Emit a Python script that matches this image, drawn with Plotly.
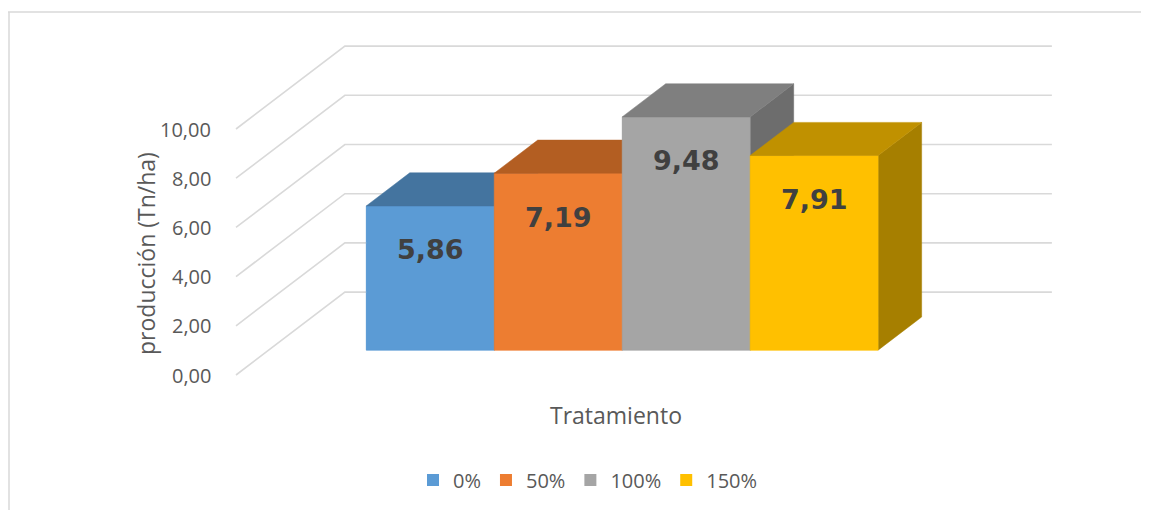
import plotly.graph_objects as go

# Datos del grafico
tratamientos = ['0%', '50%', '100%', '150%']
produccion = [5.86, 7.19, 9.48, 7.91]
etiquetas = ['5,86', '7,19', '9,48', '7,91']
ticks = [0, 2, 4, 6, 8, 10]
tick_labels = ['0,00', '2,00', '4,00', '6,00', '8,00', '10,00']

### Colores (frente / tapa / lateral) ###
front_colors = ['#5B9BD5', '#ED7D31', '#A5A5A5', '#FFC000']
top_colors = ['#44749F', '#B35E22', '#7F7F7F', '#C09100']
side_colors = ['#3C6690', '#9E531E', '#6D6D6D', '#A67F00']
grid_color = '#D9D9D9'
text_color = '#595959'

W, H = 1149, 510
OFF = 8   # margen del body de la pagina

### Proyeccion oblicua (profundidad) ###
DX = 0.154     # desplazamiento x de toda la profundidad (unidades de categoria)
DY = 3.37      # desplazamiento y de toda la profundidad (unidades de valor)
T_FRONT, T_BACK = 0.30, 0.70
BAR_W = 0.181
GAP = (1 - BAR_W * len(produccion)) / 2


def proj(x, v, t):
    return x + t * DX, v + t * DY


def px(x):
    return (x - OFF) / W


def py(y):
    return 1 - (y - OFF) / H


fig = go.Figure()

### Paredes: lineas de la grilla ###
gx, gy = [], []
for v in ticks:
    x0, y0 = proj(0, v, 0)
    x1, y1 = proj(0, v, 1)
    x2, y2 = proj(1, v, 1)
    gx += [x0, x1, x2, None]
    gy += [y0, y1, y2, None]
fig.add_trace(go.Scatter(x=gx, y=gy, mode='lines', showlegend=False, hoverinfo='skip',
                         line=dict(color=grid_color, width=1.6)))

### Barras (cara frontal) ###
for i, (name, val) in enumerate(zip(tratamientos, produccion)):
    left = GAP + i * BAR_W
    fig.add_trace(go.Bar(
        x=[left + BAR_W / 2 + T_FRONT * DX], y=[val], base=[T_FRONT * DY],
        width=[BAR_W], name=name, marker_color=front_colors[i],
        marker_line_width=0, hoverinfo='skip'))


def face(pts, color):
    xs = [p[0] for p in pts] + [pts[0][0]]
    ys = [p[1] for p in pts] + [pts[0][1]]
    return go.Scatter(x=xs, y=ys, mode='lines', fill='toself', fillcolor=color,
                      line=dict(color=color, width=0.5), showlegend=False, hoverinfo='skip')


### Caras 3D (dibujadas de izquierda a derecha) ###
for i, val in enumerate(produccion):
    left, right = GAP + i * BAR_W, GAP + (i + 1) * BAR_W
    front = [proj(left, 0, T_FRONT), proj(right, 0, T_FRONT),
             proj(right, val, T_FRONT), proj(left, val, T_FRONT)]
    top = [proj(left, val, T_FRONT), proj(right, val, T_FRONT),
           proj(right, val, T_BACK), proj(left, val, T_BACK)]
    side = [proj(right, 0, T_FRONT), proj(right, 0, T_BACK),
            proj(right, val, T_BACK), proj(right, val, T_FRONT)]
    fig.add_trace(face(side, side_colors[i]))
    fig.add_trace(face(front, front_colors[i]))
    fig.add_trace(face(top, top_colors[i]))

### Etiquetas de datos ###
for i, (val, lab) in enumerate(zip(produccion, etiquetas)):
    cx, cy = proj(GAP + (i + 0.5) * BAR_W, val, T_FRONT)
    fig.add_annotation(x=cx, y=cy, text=lab, showarrow=False, yanchor='middle', yshift=-44,
                       font=dict(family='DejaVu Sans', size=27, color='#404040', weight='bold'))

### Etiquetas del eje y ###
for v, lab in zip(ticks, tick_labels):
    fig.add_annotation(x=0, y=v, text=lab, showarrow=False, xanchor='right', yanchor='middle',
                       xshift=-23, font=dict(family='Open Sans', size=20, color=text_color))

fig.add_annotation(xref='paper', yref='paper', x=px(146), y=py(254),
                   xanchor='center', yanchor='middle',
                   text='producción (Tn/ha)', textangle=-90, showarrow=False,
                   font=dict(family='Open Sans', size=23, color=text_color))
fig.add_annotation(xref='paper', yref='paper', x=px(616), y=py(415),
                   xanchor='center', yanchor='middle',
                   text='Tratamiento', showarrow=False,
                   font=dict(family='Open Sans', size=23, color=text_color))

### Marco ###
fig.add_shape(type='line', xref='paper', yref='paper', x0=px(8), x1=1, y0=py(12), y1=py(12),
              line=dict(color=grid_color, width=1.5))
fig.add_shape(type='line', xref='paper', yref='paper', x0=px(9), x1=px(9), y0=0, y1=py(12),
              line=dict(color=grid_color, width=1.5))

# rango de ejes: categoria 0..1 en x=236..943 px, valor 0 en y=375 px, 24.6 px por unidad
x_min = -(236 - OFF) / 707
y_max = (375 - OFF) / 24.6

fig.update_layout(
    width=W, height=H,
    margin=dict(l=0, r=0, t=0, b=0),
    paper_bgcolor='white', plot_bgcolor='white',
    barmode='overlay', hovermode=False,
    xaxis=dict(range=[x_min, x_min + W / 707], visible=False, fixedrange=True),
    yaxis=dict(range=[y_max - H / 24.6, y_max], visible=False, fixedrange=True),
    legend=dict(orientation='h', x=px(588), xanchor='center', y=py(480), yanchor='middle',
                font=dict(family='Open Sans', size=20, color=text_color), itemwidth=30,
                traceorder='normal'),
)

fig.write_html('out.html')
